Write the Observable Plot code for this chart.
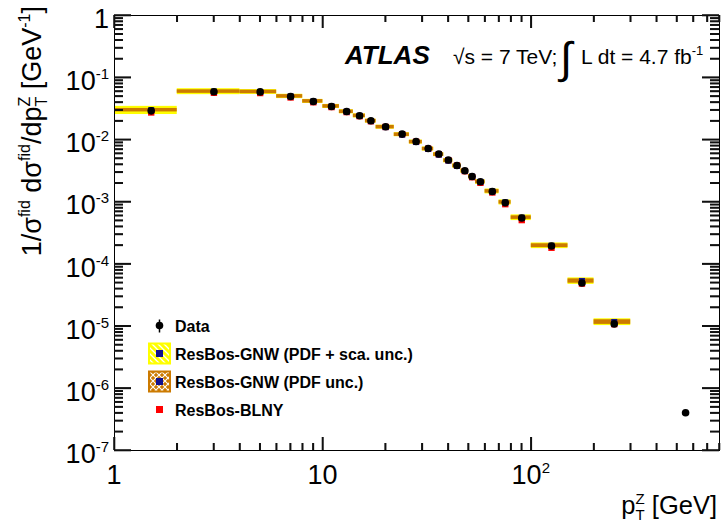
<!DOCTYPE html>
<html>
<head>
<meta charset="utf-8">
<script src="https://cdn.jsdelivr.net/npm/d3@7"></script>
<script src="https://cdn.jsdelivr.net/npm/@observablehq/plot@0.6"></script>
<style>
  body { margin: 0; background: #fff; }
  #chart { width: 722px; height: 526px; }
  #chart svg { display: block; }
</style>
</head>
<body>
<div id="chart"></div>
<script>
// Normalised Z-boson transverse-momentum distribution, sqrt(s) = 7 TeV.
// pT bin edges [GeV] and the pT at which each bin's marker is drawn
const binLow  = [0, 2, 4, 6, 8, 10, 12, 14, 16, 18, 22, 26, 30, 34, 38, 42, 46, 50, 54, 60, 70, 80, 100, 150, 200, 300];
const binHigh = [2, 4, 6, 8, 10, 12, 14, 16, 18, 22, 26, 30, 34, 38, 42, 46, 50, 54, 60, 70, 80, 100, 150, 200, 300, 800];
const ptPoint = [1.5, 3, 5, 7, 9, 11, 13, 15, 17, 20, 24, 28, 32, 36, 40, 44, 48, 52, 57, 65, 75, 90, 125, 175, 250, 550];

// measured 1/sigma dsigma/dpT [GeV^-1]
const dataXs = [0.0292, 0.0593, 0.0590, 0.0497, 0.0413, 0.0343, 0.0285, 0.0243, 0.0202, 0.0162,
                0.01235, 0.0094, 0.00724, 0.00589, 0.00472, 0.00386, 0.00318, 0.00257, 0.00211, 0.001475,
                0.00097, 0.000551, 0.000195, 4.97e-5, 1.09e-5, 4.04e-7];
// ResBos-GNW prediction (no prediction for the last bin)
const gnwXs  = [0.0300, 0.0598, 0.0590, 0.0500, 0.0416, 0.0345, 0.0283, 0.0243, 0.0200, 0.0160,
                0.0121, 0.0092, 0.00712, 0.00578, 0.00462, 0.00380, 0.00315, 0.00256, 0.00210, 0.00148,
                0.000985, 0.000560, 0.000198, 5.35e-5, 1.17e-5];
// ResBos-BLNY prediction
const blnyXs = [0.0275, 0.0570, 0.0565, 0.0480, 0.0402, 0.0336, 0.0279, 0.0240, 0.0199, 0.0161,
                0.0123, 0.0093, 0.00718, 0.00585, 0.00470, 0.00385, 0.00313, 0.00250, 0.00203, 0.00142,
                0.00092, 0.00051, 0.000183, 4.85e-5, 1.08e-5];
// GNW relative uncertainties [%]: PDF only, and PDF + scale
const pdfUnc = [6.5, 6.5, 6.5, 6.5, 6.5, 6.5, 6.5, 6.5, 6.5, 6.5, 6.5, 6.5, 6.5, 6.5, 6.5, 6.5, 6.5, 6.5, 6.5, 6.5,
                6.5, 6.5, 7, 8, 8.5];
const totUnc = [15, 11, 9, 8, 7.5, 7.5, 7.5, 7.5, 7.5, 7.5, 7.5, 7.5, 7.5, 7.5, 8, 8, 8.5, 8.5, 8.5, 9,
                9.5, 10.5, 10.5, 12, 12.5];

// axis ticks and labels
const xMajor = [1, 10, 100];
const xMajorLabels = ["1", "10", "10^2"];
const xMinor = [2, 3, 4, 5, 6, 7, 8, 9, 20, 30, 40, 50, 60, 70, 80, 90, 200, 300, 400, 500, 600, 700, 800];
const yMajor = [1e-7, 1e-6, 1e-5, 1e-4, 1e-3, 1e-2, 1e-1, 1];
const yMajorLabels = ["10^-7", "10^-6", "10^-5", "10^-4", "10^-3", "10^-2", "10^-1", "1"];
const yMinorMantissa = [2, 3, 4, 5, 6, 7, 8, 9];

const yMinor = yMajor.slice(0, -1).flatMap(p => yMinorMantissa.map(m => m * p));

const bins = binLow.map((lo, i) => ({
  lo, hi: binHigh[i], pt: ptPoint[i], data: dataXs[i],
  gnw: gnwXs[i], blny: blnyXs[i], pdf: pdfUnc[i], tot: totUnc[i]
}));
const theory = bins.filter(d => d.gnw != null);

const YELLOW = "#ffff00", ORANGE = "#cc7a00", BLUE = "#10108f", RED = "#ff0000";
const FONT = "'Liberation Sans', Arial, Helvetica, sans-serif";

const W = 722, H = 526, ML = 114, MR = 3, MT = 15, MB = 76;
const frameW = W - ML - MR, frameH = H - MT - MB;

// inward ticks as short rules hugging each side of the frame
const tickStyle = { stroke: "#111", strokeWidth: 1.6 };
const ticksBottom = (v, len) => Plot.ruleX(v, { ...tickStyle, insetTop: frameH - len });
const ticksTop    = (v, len) => Plot.ruleX(v, { ...tickStyle, insetBottom: frameH - len });
const ticksLeft   = (v, len) => Plot.ruleY(v, { ...tickStyle, insetRight: frameW - len });
const ticksRight  = (v, len) => Plot.ruleY(v, { ...tickStyle, insetLeft: frameW - len });

const svg = Plot.plot({
  width: W, height: H,
  marginLeft: ML, marginRight: MR, marginTop: MT, marginBottom: MB,
  style: { fontFamily: FONT, fontSize: "27px", color: "#000", background: "#fff", overflow: "visible" },
  x: { type: "log", domain: [1, 800], axis: null, label: null },
  y: { type: "log", domain: [1e-7, 1], axis: null, label: null },
  marks: [
    // GNW uncertainty bands across each bin
    Plot.rect(theory, { x1: d => Math.max(d.lo, 1), x2: "hi",
      y1: d => d.gnw * (1 - d.tot / 100), y2: d => d.gnw * (1 + d.tot / 100), fill: YELLOW }),
    Plot.rect(theory, { x1: d => Math.max(d.lo, 1), x2: "hi",
      y1: d => d.gnw * (1 - d.pdf / 100), y2: d => d.gnw * (1 + d.pdf / 100), fill: ORANGE }),
    Plot.dot(theory, { x: "pt", y: "blny", symbol: "square", r: 3.6, fill: RED }),
    Plot.dot(theory, { x: "pt", y: "gnw", symbol: "square", r: 3.4, fill: BLUE }),
    Plot.dot(bins, { x: "pt", y: "data", r: 3.8, fill: "#000" }),
    Plot.frame({ stroke: "#000", strokeWidth: 1 }),
    ticksBottom(xMajor, 13), ticksBottom(xMinor, 7),
    ticksTop(xMajor, 13), ticksTop(xMinor, 7),
    ticksLeft(yMajor, 17), ticksLeft(yMinor, 9),
    ticksRight(yMajor, 17), ticksRight(yMinor, 9)
  ]
});
document.getElementById("chart").appendChild(svg);

const root = d3.select(svg);
const sx = svg.scale("x"), sy = svg.scale("y");
const px = v => sx.apply(v), py = v => sy.apply(v);
const frameL = ML, frameR = W - MR, frameB = H - MB, frameT = MT;

// the same ticks as thin filled bars placed with the plot's scales
const tb = root.append("g").attr("fill", "#111");
const TW = 1.4;
const vTicks = (values, len) => values.forEach(v => {
  const x = px(v) - TW / 2;
  tb.append("rect").attr("x", x).attr("y", frameB - len).attr("width", TW).attr("height", len);
  tb.append("rect").attr("x", x).attr("y", frameT).attr("width", TW).attr("height", len);
});
const hTicks = (values, len) => values.forEach(v => {
  const y = py(v) - TW / 2;
  tb.append("rect").attr("x", frameL).attr("y", y).attr("width", len).attr("height", TW);
  tb.append("rect").attr("x", frameR - len).attr("y", y).attr("width", len).attr("height", TW);
});
vTicks(xMajor, 13); vTicks(xMinor, 7);
hTicks(yMajor, 17); hTicks(yMinor, 9);

// "10^-3" style text -> base with raised exponent
function powerLabel(text, s, supSize, raise) {
  const [base, exp] = s.split("^");
  text.append("tspan").text(base);
  if (exp !== undefined) text.append("tspan").attr("font-size", supSize + "px").attr("dy", -raise).text(exp);
  return text;
}

const lab = root.append("g").attr("font-family", FONT).attr("font-size", "27px").attr("fill", "#000");
xMajor.forEach((v, i) => powerLabel(
  lab.append("text").attr("text-anchor", "middle").attr("x", px(v)).attr("y", frameB + 34),
  xMajorLabels[i], 15, 11));
yMajor.forEach((v, i) => powerLabel(
  lab.append("text").attr("text-anchor", "end").attr("x", frameL - 5).attr("y", py(v) + 13),
  yMajorLabels[i], 15, 11));

// rich text: parts are [string, kind, dx] with kind n | sup | sub
function rich(parent, parts, { size, supSize, raise, lower }) {
  const text = parent.append("text").attr("font-size", size + "px");
  let cur = 0;
  for (const [str, kind, dx] of parts) {
    const ts = text.append("tspan").text(str);
    let target = 0;
    if (kind === "sup") { target = -raise; ts.attr("font-size", supSize + "px"); }
    if (kind === "sub") { target = lower; ts.attr("font-size", supSize + "px"); }
    if (target !== cur) ts.attr("dy", target - cur);
    if (dx) ts.attr("dx", dx);
    cur = target;
  }
  return text;
}

const g = root.append("g").attr("font-family", FONT).attr("fill", "#000").attr("text-anchor", "start");

// axis titles
rich(g, [["p", "n"], ["Z", "sup"], ["T", "sub", "-0.611em"], [" [GeV]", "n"]],
  { size: 25.5, supSize: 15, raise: 10, lower: 6 })
  .attr("text-anchor", "end").attr("x", 717).attr("y", 514);

rich(g, [["1/σ", "n"], ["fid", "sup"], [" dσ", "n"], ["fid", "sup"], ["/dp", "n"],
         ["Z", "sup"], ["T", "sub", "-0.611em"], [" [GeV", "n"], ["-1", "sup"], ["]", "n"]],
  { size: 27, supSize: 16, raise: 11, lower: 6 })
  .attr("text-anchor", "end").attr("transform", "translate(41,6) rotate(-90)");

// experiment label
g.append("text").attr("x", 345).attr("y", 64).attr("font-size", "26px")
  .attr("font-weight", "bold").attr("font-style", "italic").text("ATLAS");
g.append("text").attr("x", 453).attr("y", 64).attr("font-size", "21px").text("√s = 7 TeV;");
g.append("text").attr("x", 560).attr("y", 73).attr("font-size", "44px").text("∫");
rich(g, [["L dt = 4.7 fb", "n"], ["-1", "sup"]], { size: 21, supSize: 13, raise: 9, lower: 0 })
  .attr("x", 581).attr("y", 64);

// legend
const defs = root.append("defs");
const hatch = defs.append("pattern").attr("id", "hatchTot").attr("patternUnits", "userSpaceOnUse")
  .attr("width", 6).attr("height", 6);
hatch.append("rect").attr("width", 6).attr("height", 6).attr("fill", YELLOW);
hatch.append("path").attr("d", "M-1,-1L7,7M-4,2L2,8M2,-4L8,2").attr("stroke", "#fff").attr("stroke-width", 1.3);
const cross = defs.append("pattern").attr("id", "hatchPdf").attr("patternUnits", "userSpaceOnUse")
  .attr("width", 6).attr("height", 6);
cross.append("rect").attr("width", 6).attr("height", 6).attr("fill", ORANGE);
cross.append("path").attr("d", "M-1,-1L7,7M-1,7L7,-1").attr("stroke", "#fff").attr("stroke-width", 1.1);

const legend = [
  { label: "Data", kind: "data" },
  { label: "ResBos-GNW (PDF + sca. unc.)", kind: "tot" },
  { label: "ResBos-GNW (PDF unc.)", kind: "pdf" },
  { label: "ResBos-BLNY", kind: "blny" }
];
const lg = g.append("g").attr("font-size", "16px").attr("font-weight", "bold");
legend.forEach((e, i) => {
  const cy = 325.5 + i * 28, cx = 159.5;
  if (e.kind === "data") {
    lg.append("line").attr("x1", cx).attr("x2", cx).attr("y1", cy - 6).attr("y2", cy + 7)
      .attr("stroke", "#000").attr("stroke-width", 1.5);
    lg.append("circle").attr("cx", cx).attr("cy", cy).attr("r", 3.8).attr("fill", "#000");
  } else if (e.kind === "blny") {
    lg.append("rect").attr("x", cx - 3.5).attr("y", cy - 3.5).attr("width", 7).attr("height", 7).attr("fill", RED);
  } else {
    lg.append("rect").attr("x", cx - 10.5).attr("y", cy - 10).attr("width", 21).attr("height", 20)
      .attr("fill", `url(#${e.kind === "tot" ? "hatchTot" : "hatchPdf"})`)
      .attr("stroke", e.kind === "tot" ? YELLOW : ORANGE).attr("stroke-width", 2);
    lg.append("rect").attr("x", cx - 3.5).attr("y", cy - 3.5).attr("width", 7).attr("height", 7).attr("fill", BLUE);
  }
  lg.append("text").attr("x", 175).attr("y", cy + 6).text(e.label);
});
</script>
</body>
</html>
